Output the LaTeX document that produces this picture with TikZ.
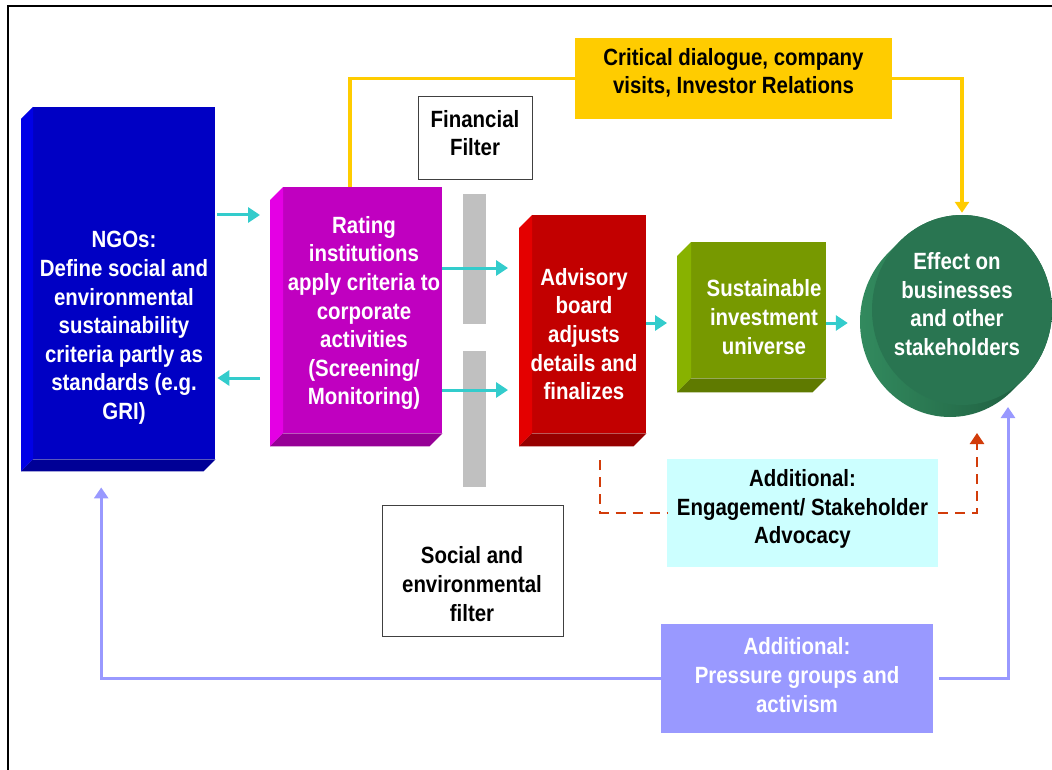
\documentclass[tikz,border=0pt]{standalone}
\usepackage{fontspec}
\setmainfont{Liberation Sans}[FakeStretch=0.87]
\usetikzlibrary{arrows.meta,calc,shapes.geometric}

\definecolor{ngofront}{RGB}{0,0,196}
\definecolor{ngoside}{RGB}{0,0,230}
\definecolor{ngobottom}{RGB}{0,0,150}
\definecolor{ratefront}{RGB}{192,0,192}
\definecolor{rateside}{RGB}{228,0,228}
\definecolor{ratebottom}{RGB}{150,0,150}
\definecolor{advfront}{RGB}{194,0,0}
\definecolor{advside}{RGB}{228,0,0}
\definecolor{advbottom}{RGB}{150,0,0}
\definecolor{grnfront}{RGB}{119,153,0}
\definecolor{grnside}{RGB}{136,178,0}
\definecolor{grnbottom}{RGB}{95,122,0}
\definecolor{efffront}{RGB}{41,117,81}
\definecolor{effedgelight}{RGB}{50,138,94}
\definecolor{effedgedark}{RGB}{28,88,60}
\definecolor{flowcyan}{RGB}{51,204,204}
\definecolor{dlgyellow}{RGB}{255,204,0}
\definecolor{engcyan}{RGB}{204,255,255}
\definecolor{preslav}{RGB}{153,153,255}
\definecolor{dashred}{RGB}{210,60,10}
\definecolor{bargray}{RGB}{192,192,192}

% extruded side and bottom faces of a block, lit from the upper left
\newcommand\extrude[4]{%
  \fill[#3] ($(#1.north west)+(-#2,#2)$) -- (#1.north west) -- (#1.south west)
    -- ($(#1.south west)+(-#2,#2)$) -- cycle;
  \fill[#4] ($(#1.south west)+(-#2,#2)$) -- (#1.south west) -- (#1.south east)
    -- ($(#1.south east)+(-#2,#2)$) -- cycle;
}

\tikzset{
  face/.style={inner sep=0pt, anchor=north west, draw=none},
  lbl/.style={align=center, text=white, inner sep=0pt,
    font=\fontsize{23.5}{28.6}\selectfont\bfseries},
  lbldark/.style={lbl, text=black},
  filterbox/.style={draw=black!75, line width=1pt, fill=white, inner sep=0pt},
  plainbox/.style={draw=none, inner sep=0pt},
  flow/.style={draw=flowcyan, line width=3pt, -{Triangle[length=12pt,width=15pt]}},
  dialogue/.style={draw=dlgyellow, line width=3.5pt},
  pressure/.style={draw=preslav, line width=3pt},
  engage/.style={draw=dashred, line width=2.5pt, dash pattern=on 10pt off 7pt},
  tip/.style={-{Triangle[length=11pt,width=14pt]}},
}

\begin{document}
\begin{tikzpicture}[x=1pt,y=-1pt]
\useasboundingbox (0,0) rectangle (1052,770);

% page frame
\draw[line width=2pt] (8,770) -- (8,6) -- (1052,6);

% blocks: front faces
\node[face, fill=ngofront, minimum width=182, minimum height=352] (ngo) at (33,107) {};
\node[face, fill=ratefront, minimum width=159, minimum height=246] (rate) at (283,187) {};
\node[face, fill=advfront, minimum width=114, minimum height=218] (adv) at (532,215) {};
\node[face, fill=grnfront, minimum width=135, minimum height=136] (grn) at (691,242) {};
\extrude{ngo}{12}{ngoside}{ngobottom}
\extrude{rate}{13}{rateside}{ratebottom}
\extrude{adv}{13}{advside}{advbottom}
\extrude{grn}{14}{grnside}{grnbottom}

% disc: extruded body, then the front face
\shade[left color=effedgelight, right color=effedgedark]
  \foreach \t in {0,1,...,12} { (962-\t,310+\t) ellipse [x radius=90, y radius=95] };
\node[ellipse, fill=efffront, minimum width=180, minimum height=190, inner sep=0pt] (eff) at (962,310) {};

% filter bars
\node[plainbox, fill=bargray, minimum width=23, minimum height=130] (fbar) at (474.5,259) {};
\node[plainbox, fill=bargray, minimum width=23, minimum height=136] (sbar) at (474.5,419) {};

% filter labels
\node[filterbox, minimum width=114, minimum height=83] (fin) at (475,138.5) {};
\node[lbldark] (fintxt) at (475,133) {Financial\\Filter};
\node[filterbox, minimum width=181, minimum height=131] (soc) at (472.5,570.5) {};
\node[lbldark] (soctxt) at (472,584) {Social and\\environmental\\filter};

% block texts
\node[lbl] (ngotxt) at (124,328) {NGOs:\\Define social and\\environmental\\sustainability\\criteria partly as\\standards (e.g.\\GRI)};
\node[lbl] (ratetxt) at (364,313) {Rating\\institutions\\apply criteria to\\corporate\\activities\\(Screening/\\Monitoring)};
\node[lbl] (advtxt) at (584,334) {Advisory\\board\\adjusts\\details and\\finalizes};
\node[lbl] (grntxt) at (764,317) {Sustainable\\investment\\universe};
\node[lbl] (efftxt) at (957,304) {Effect on\\businesses\\and other\\stakeholders};

% main flow
\coordinate (a1) at ([xshift=2pt,yshift=-108pt]ngo.north east);
\draw[flow, shorten >=23pt] (a1) -- (a1 -| rate.west);
\coordinate (a2) at ([yshift=-191pt]rate.north west);
\draw[flow, shorten <=23pt, shorten >=2pt] (a2) -- (a2 -| ngo.east);
\coordinate (a3) at ([yshift=-81pt]rate.north east);
\draw[flow, shorten >=24pt] (a3) -- (a3 -| adv.west);
\coordinate (a4) at ([yshift=-203pt]rate.north east);
\draw[flow, shorten >=24pt] (a4) -- (a4 -| adv.west);
\coordinate (a5) at ([yshift=-108pt]adv.north east);
\draw[flow, shorten >=24pt] (a5) -- (a5 -| grn.west);
\coordinate (a6) at ([yshift=-81pt]grn.north east);
\draw[flow, shorten >=24pt] (a6) -- (a6 -| eff.west);

% dialogue loop
\coordinate (y0) at ([xshift=67pt]rate.north west);
\node[plainbox, fill=dlgyellow, minimum width=317, minimum height=81] (dlg) at (733.5,78.5) {};
\draw[dialogue] (y0) |- (dlg.west);
\draw[dialogue, tip] (dlg.east) -| ([yshift=2pt]eff.north);
\node[lbldark] (dlgtxt) at (733.5,73) {Critical dialogue, company\\visits, Investor Relations};

% engagement loop
\node[plainbox, fill=engcyan, minimum width=271, minimum height=108] (eng) at (802.5,513) {};
\coordinate (d1) at ([xshift=11pt,yshift=-27pt]adv.south);
\coordinate (d2) at ([xshift=15pt,yshift=-123pt]eff.center);
\draw[engage] (d1) |- (eng.west);
\draw[engage, tip] (eng.east) -| (d2);
\node[lbldark] (engtxt) at (802.5,509) {Additional:\\Engagement/ Stakeholder\\Advocacy};

% pressure loop
\node[plainbox, fill=preslav, minimum width=272, minimum height=109] (pres) at (797,678.5) {};
\coordinate (l1) at ([xshift=-23pt,yshift=-28pt]ngo.south);
\coordinate (l2) at ([xshift=46pt,yshift=-97pt]eff.center);
\draw[pressure, tip] (pres.west) -| (l1);
\draw[pressure, tip, shorten <=6pt] (pres.east) -| (l2);
\node[lbl] (prestxt) at (797,675) {Additional:\\Pressure groups and\\activism};
\end{tikzpicture}
\end{document}
